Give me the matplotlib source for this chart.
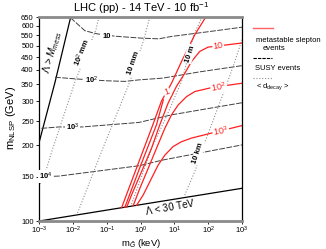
import matplotlib
matplotlib.use('Agg')
import matplotlib.pyplot as plt
from matplotlib.lines import Line2D
from matplotlib.ticker import FixedLocator, FixedFormatter, NullLocator

plt.rcParams['font.family'] = ['Liberation Sans', 'DejaVu Sans']
plt.rcParams['mathtext.fontset'] = 'custom'
plt.rcParams['mathtext.rm'] = 'Liberation Sans'
plt.rcParams['mathtext.it'] = 'Liberation Sans:italic'
plt.rcParams['mathtext.bf'] = 'Liberation Sans:bold'

# ---------------- data ----------------
# boundaries
lam_mess_x = [0.001, 0.0029, 0.0085]
lam_mess_y = [207, 356, 650]
lam_30_x = [0.001, 1000]
lam_30_y = [100, 135]

# SUSY events (dashed)
susy_10_x = [0.00835, 0.0224, 0.0508, 0.173, 1.16, 3.45, 8.37, 83, 1000]
susy_10_y = [646, 573, 557, 545, 535, 532, 544, 566, 592]
susy_100_x = [0.00291, 0.0130, 0.100, 0.341, 0.885, 4.54, 56.2, 1000]
susy_100_y = [374, 368, 362, 360, 365, 371, 393, 416]
susy_1e3_x = [0.00115, 0.00382, 0.0183, 0.885, 8.37, 1000]
susy_1e3_y = [234, 237, 237, 247, 265, 296]
susy_1e4_x = [0.001, 0.00382, 0.885, 4.54, 1000]
susy_1e4_y = [150, 151, 166, 175, 201]

# decay length (dotted)
d_100mm_x = [0.0582, 0.0474, 0.0119, 0.00242, 0.00138, 0.001]
d_100mm_y = [650, 578, 365, 192, 150, 139]
d_10mm_x = [1.87, 1.24, 0.504, 0.0728, 0.0133]
d_10mm_y = [650, 528, 365, 192, 107]
d_10m_x = [65.8, 37.4, 16.9, 6.08, 2.19, 0.514]
d_10m_y = [650, 552, 365, 265, 197, 115]
d_10km_x = [1000, 597, 361, 65.8, 42.0, 21.3, 19.6]
d_10km_y = [528, 427, 354, 192, 160, 129, 125]

# metastable slepton events (red)
sl_1_x = [84.7, 40.0, 16.2, 8.20, 4.15, 2.30, 0.885, 0.273]
sl_1_y = [650, 552, 432, 354, 301, 242, 172, 113]
sl_1b_x = [4.69, 2.95, 1.01, 0.341]
sl_1b_y = [304, 242, 167, 113.5]
sl_10_x = [1000, 99.1, 56.2, 32.0, 20.3, 11.5, 6.50, 3.70, 2.10, 1.06, 0.538, 0.391]
sl_10_y = [512, 493, 474, 432, 388, 344, 295, 242, 195, 157, 127, 114]
sl_100_x = [1000, 125, 40.0, 22.8, 12.9, 8.20, 5.20, 2.95, 1.67, 0.948, 0.601]
sl_100_y = [354, 340, 328, 313, 290, 265, 234, 195, 162, 135, 115]
sl_1e3_x = [1000, 125, 32.0, 16.2, 9.14, 5.20, 3.29, 2.10, 1.19, 0.757]
sl_1e3_y = [240, 224, 214, 207, 198, 183, 167, 148, 127, 115.5]

x_ticks = [1e-3, 1e-2, 1e-1, 1e0, 1e1, 1e2, 1e3]
x_tick_labels = [r'$10^{-3}$', r'$10^{-2}$', r'$10^{-1}$', r'$10^{0}$',
                 r'$10^{1}$', r'$10^{2}$', r'$10^{3}$']
y_ticks = [100, 150, 200, 250, 300, 350, 400, 450, 500, 550, 600, 650]

# ---------------- figure ----------------
W, H = 326, 249
fig = plt.figure(figsize=(W / 100, H / 100), dpi=100)
ax = fig.add_axes([39.3 / W, 1 - 221 / H, (242 - 39.3) / W, (221 - 17) / H])
ax.set_xscale('log')
ax.set_yscale('log')
ax.set_xlim(1e-3, 1e3)
ax.set_ylim(100, 650)

black_kw = dict(color='black', lw=0.9)
dash_kw = dict(color='#404040', lw=0.7, ls=(0, (6, 1.5)))
dot_kw = dict(color='#909090', lw=0.8, ls=(0, (1, 1.6)))
red_kw = dict(color='#ff2020', lw=0.9)

ax.plot(lam_mess_x, lam_mess_y, **black_kw)
ax.plot(lam_30_x, lam_30_y, **black_kw)

for xs, ys in [(susy_10_x, susy_10_y), (susy_100_x, susy_100_y),
               (susy_1e3_x, susy_1e3_y), (susy_1e4_x, susy_1e4_y)]:
    ax.plot(xs, ys, **dash_kw)
for xs, ys in [(d_100mm_x, d_100mm_y), (d_10mm_x, d_10mm_y),
               (d_10m_x, d_10m_y), (d_10km_x, d_10km_y)]:
    ax.plot(xs, ys, **dot_kw)
for xs, ys in [(sl_1_x, sl_1_y), (sl_1b_x, sl_1b_y), (sl_10_x, sl_10_y),
               (sl_100_x, sl_100_y), (sl_1e3_x, sl_1e3_y)]:
    ax.plot(xs, ys, **red_kw)

wb = dict(facecolor='white', edgecolor='none', pad=0.6)
fs_lab = 5.5
# SUSY labels
ax.text(0.098, 545, '10', fontsize=fs_lab, ha='center', va='center', bbox=wb, weight='bold')
ax.text(0.036, 362, r'10$^2$', fontsize=fs_lab, ha='center', va='center', bbox=wb, weight='bold')
ax.text(0.0094, 237, r'10$^3$', fontsize=fs_lab, ha='center', va='center', bbox=wb, weight='bold')
ax.text(0.00155, 150, r'10$^4$', fontsize=fs_lab, ha='center', va='center', bbox=wb, weight='bold')
# decay length labels
ax.text(0.0183, 468, r'10$^2$ mm', fontsize=fs_lab, ha='center', va='center', rotation=68, bbox=wb, weight='bold')
ax.text(0.629, 427, '10 mm', fontsize=fs_lab, ha='center', va='center', rotation=71, bbox=wb, weight='bold')
ax.text(28.5, 464, '10 m', fontsize=fs_lab, ha='center', va='center', rotation=72, bbox=wb, weight='bold')
ax.text(50.1, 186, '10 km', fontsize=fs_lab, ha='center', va='center', rotation=72, bbox=wb, weight='bold')
# slepton labels
ax.text(5.83, 328, '1', fontsize=6.5, color='#ff2020', ha='center', va='center', rotation=20, bbox=wb)
ax.text(196, 501, '10', fontsize=6.5, color='#ff2020', ha='center', va='center', rotation=8, bbox=wb)
ax.text(205, 343, r'10$^2$', fontsize=6.5, color='#ff2020', ha='center', va='center', rotation=10, bbox=wb)
ax.text(235, 229, r'10$^3$', fontsize=6.5, color='#ff2020', ha='center', va='center', rotation=10, bbox=wb)
# boundary labels
ax.text(0.0025, 470, r'$\Lambda$ > $M_{mess}$', fontsize=7, ha='center', va='center', rotation=74)
ax.text(7.3, 113.6, r'$\Lambda$ < 30 TeV', fontsize=7, ha='center', va='center', rotation=10)

# axes styling
for s in ['top', 'bottom']:
    ax.spines[s].set_color('#8a8a8a')
    ax.spines[s].set_linewidth(2.0)
for s in ['left', 'right']:
    ax.spines[s].set_color('black')
    ax.spines[s].set_linewidth(0.9)
ax.xaxis.set_major_locator(FixedLocator(x_ticks))
ax.xaxis.set_major_formatter(FixedFormatter(x_tick_labels))
ax.xaxis.set_minor_locator(NullLocator())
ax.yaxis.set_major_locator(FixedLocator(y_ticks))
ax.yaxis.set_major_formatter(FixedFormatter([str(v) for v in y_ticks]))
ax.yaxis.set_minor_locator(NullLocator())
ax.tick_params(axis='both', direction='out', length=2.5, width=0.6, labelsize=5.5, pad=1.5)
ax.tick_params(axis='x', length=2, pad=0.8)

ax.set_xlabel(r'm$_{\tilde{G}}$ (keV)', fontsize=6.8, va='center')
ax.xaxis.set_label_coords(0.5, -(243.3 - 221) / 204)
ax.set_ylabel(r'm$_{\rm NLSP}$ (GeV)', fontsize=8, va='center')
ax.yaxis.set_label_coords(-(39.3 - 11) / 202.7, (221 - 118) / 204)
fig.text(141 / W, 1 - 8 / H, r'LHC (pp) - 14 TeV - 10 fb$^{-1}$', fontsize=8, ha='center', va='center')

# legend (manual, outside axes)
def fx(p):
    return p / W

def fy(p):
    return 1 - p / H

fig.add_artist(Line2D([fx(253.3), fx(273.3)], [fy(27.7), fy(27.7)], color='#ff6060', lw=1.0))
fig.text(fx(256.5), fy(40), 'metastable slepton', fontsize=5.5, ha='left', va='center')
fig.text(fx(262.5), fy(48.3), 'events', fontsize=5.5, ha='left', va='center')
fig.add_artist(Line2D([fx(253.3), fx(272)], [fy(57.7), fy(57.7)], color='black', lw=0.8, ls=(0, (3, 1))))
fig.text(fx(255), fy(68.3), 'SUSY events', fontsize=5.5, ha='left', va='center')
fig.add_artist(Line2D([fx(253.3), fx(272)], [fy(77.7), fy(77.7)], color='#909090', lw=0.8, ls=(0, (1, 1.6))))
fig.text(fx(256.5), fy(86.7), r'< d$_{\rm decay}$ >', fontsize=5.5, ha='left', va='center')

fig.savefig('out.png', dpi=100)
